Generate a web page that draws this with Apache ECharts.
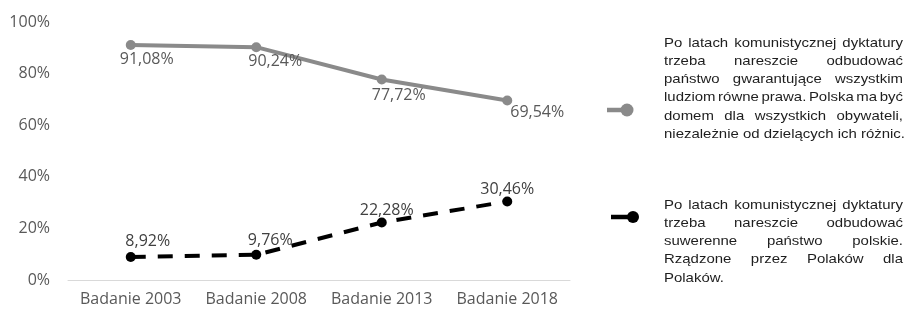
<!DOCTYPE html>
<html>
<head>
<meta charset="utf-8">
<script src="https://cdn.jsdelivr.net/npm/echarts@6/dist/echarts.min.js"></script>
<style>
  html, body { margin: 0; padding: 0; background: #fff; }
  #chart { width: 907px; height: 310px; }
</style>
</head>
<body>
<div id="chart"></div>
<script>
// dane z wykresu
const categories = ['Badanie 2003', 'Badanie 2008', 'Badanie 2013', 'Badanie 2018'];
const seriesCivic = [91.08, 90.24, 77.72, 69.54];
const seriesNational = [8.92, 9.76, 22.28, 30.46];
const yTicks = [0, 20, 40, 60, 80, 100];

const legendCivic = [
    'Po latach komunistycznej dyktatury',
    'trzeba nareszcie odbudować',
    'państwo gwarantujące wszystkim',
    'ludziom równe prawa. Polska ma być',
    'domem dla wszystkich obywateli,',
    'niezależnie od dzielących ich różnic.'
];
const legendNational = [
    'Po latach komunistycznej dyktatury',
    'trzeba nareszcie odbudować',
    'suwerenne państwo polskie.',
    'Rządzone przez Polaków dla',
    'Polaków.'
];

// przesunięcia etykiet (tylko wygląd)
const civicLabelOffsets = [[16, 0], [19, 0], [17, 2], [30, -2]];
const nationalLabelOffsets = [[17, 0], [14, 2], [5, 4], [0, 4]];

const axisFont = '"Open Sans", "Noto Sans", sans-serif';
const legendFontSize = 13;
const legendFont = legendFontSize + 'px "Liberation Sans", Arial, sans-serif';
const legendScale = 1.15;

function pct(v) {
    return v.toFixed(2).replace('.', ',') + '%';
}

// tekst legendy wyjustowany jak w Excelu - każde słowo osobno
const measureCtx = document.createElement('canvas').getContext('2d');
measureCtx.font = legendFont;
function justifiedText(lines, left, top, width, lineH) {
    let els = [];
    lines.forEach(function(line, i) {
        let words = line.split(' ');
        let widths = words.map(w => measureCtx.measureText(w).width * legendScale);
        let total = widths.reduce((a, b) => a + b, 0);
        let last = i === lines.length - 1;
        let gap = (!last && words.length > 1)
            ? (width - total) / (words.length - 1)
            : measureCtx.measureText(' ').width * legendScale;
        let x = left;
        words.forEach(function(w, j) {
            els.push({
                type: 'text',
                x: x,
                y: top + i * lineH,
                scaleX: legendScale,
                style: { text: w, font: legendFont, fill: '#1e1e1e', verticalAlign: 'middle' }
            });
            x += widths[j] + gap;
        });
    });
    return els;
}

function legendIcon(x1, x2, y, r, color) {
    return [
        { type: 'line', shape: { x1: x1, y1: y, x2: x2, y2: y }, style: { stroke: color, lineWidth: 4.5 } },
        { type: 'circle', shape: { cx: x2, cy: y, r: r }, style: { fill: color } }
    ];
}

const civicColor = '#8a8a8a';
const nationalColor = '#000000';

let myChart = echarts.init(document.getElementById('chart'));
let option = {
    animation: false,
    backgroundColor: '#ffffff',
    grid: { left: 68, right: 337, top: 22, bottom: 30 },
    xAxis: {
        type: 'category',
        data: categories,
        axisLine: { lineStyle: { color: '#d9d9d9', width: 1 } },
        axisTick: { show: false },
        axisLabel: { color: '#595959', fontSize: 16, fontFamily: axisFont, margin: 11, interval: 0 }
    },
    yAxis: {
        type: 'value',
        min: yTicks[0],
        max: yTicks[yTicks.length - 1],
        interval: 20,
        axisLine: { show: false },
        axisTick: { show: false },
        splitLine: { show: false },
        axisLabel: {
            color: '#595959', fontSize: 16, fontFamily: axisFont, margin: 18,
            formatter: '{value}%'
        }
    },
    series: [
        {
            name: 'obywatelskie',
            type: 'line',
            data: seriesCivic.map((v, i) => ({ value: v, label: { offset: civicLabelOffsets[i] } })),
            color: civicColor,
            lineStyle: { width: 4, color: civicColor },
            symbol: 'circle',
            symbolSize: 10,
            label: {
                show: true, position: 'bottom', distance: 1,
                color: '#595959', fontSize: 16, fontFamily: axisFont,
                formatter: p => pct(p.value)
            }
        },
        {
            name: 'narodowe',
            type: 'line',
            data: seriesNational.map((v, i) => ({ value: v, label: { offset: nationalLabelOffsets[i] } })),
            color: nationalColor,
            lineStyle: { width: 4, color: nationalColor, type: [15, 12] },
            symbol: 'circle',
            symbolSize: 10,
            label: {
                show: true, position: 'top', distance: 3,
                color: '#404040', fontSize: 16, fontFamily: axisFont,
                formatter: p => pct(p.value)
            }
        }
    ],
    graphic: []
        .concat(legendIcon(607, 627, 110, 6.5, civicColor))
        .concat(legendIcon(611, 633, 217, 6, nationalColor))
        .concat(justifiedText(legendCivic, 664, 43, 239, 18.3))
        .concat(justifiedText(legendNational, 664, 205, 239, 18.3))
};
myChart.setOption(option);
</script>
</body>
</html>
